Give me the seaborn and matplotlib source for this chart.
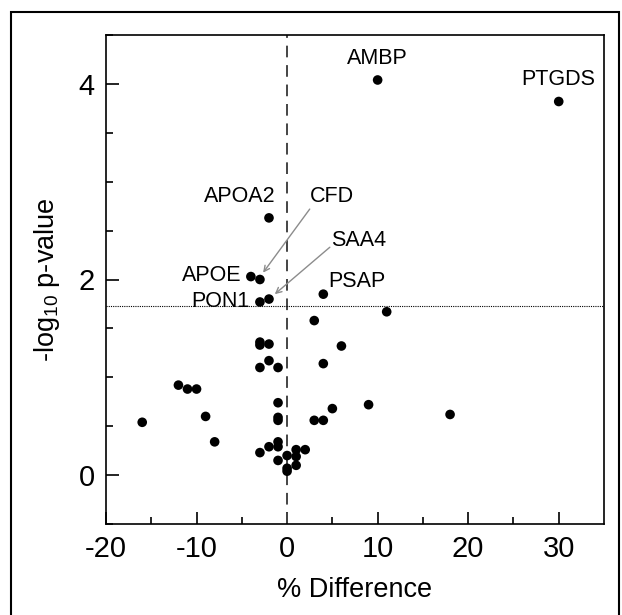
import numpy as np
import pandas as pd
import matplotlib
matplotlib.use("Agg")
import matplotlib.pyplot as plt
import seaborn as sns
from matplotlib.patches import Rectangle

# data
pct_diff = [10, 30, -2, -4, -3, -2, -3, 4,
            11, 3, -3, -3, -2, 6, -2, -3, -1, 4,
            -12, -11, -10, -1, 9, 5, -9, 18, -16, -1, -1, 3, 4,
            -8, -1, -1, -2, -3, -1, 0, 1, 2, 1, 1, 0, 0]
neg_log_p = [4.04, 3.82, 2.63, 2.03, 2.00, 1.80, 1.77, 1.85,
             1.67, 1.58, 1.36, 1.33, 1.34, 1.32, 1.17, 1.10, 1.10, 1.14,
             0.92, 0.88, 0.88, 0.74, 0.72, 0.68, 0.60, 0.62, 0.54, 0.59, 0.56, 0.56, 0.56,
             0.34, 0.34, 0.29, 0.29, 0.23, 0.15, 0.20, 0.26, 0.26, 0.19, 0.10, 0.07, 0.04]

threshold = 1.73

df = pd.DataFrame({"diff": pct_diff, "p": neg_log_p})

sns.set_style("ticks")
plt.rcParams["font.family"] = ["Liberation Sans", "DejaVu Sans"]
plt.rcParams["axes.unicode_minus"] = False
plt.rcParams["mathtext.fontset"] = "custom"
plt.rcParams["mathtext.rm"] = "Liberation Sans"
plt.rcParams["mathtext.it"] = "Liberation Sans:italic"
plt.rcParams["text.color"] = "black"
plt.rcParams["axes.labelcolor"] = "black"
plt.rcParams["xtick.labelcolor"] = "black"
plt.rcParams["ytick.labelcolor"] = "black"

fig = plt.figure(figsize=(6.22, 6.15), dpi=100)
ax = fig.add_axes([106 / 622, 1 - 524 / 615, 498 / 622, 489 / 615])

ax.axvline(0, color="#444444", linestyle=(0, (6, 4)), linewidth=1.4, zorder=1)
ax.axhline(threshold, color="black", linestyle=(0, (1, 1)), linewidth=0.8, zorder=1)

sns.scatterplot(data=df, x="diff", y="p", color="black", s=48,
                edgecolor="none", ax=ax, zorder=3)

# labels
fs = 15.5
ax.text(10, 4.26, "AMBP", fontsize=fs, ha="center", va="center")
ax.text(30, 4.05, "PTGDS", fontsize=fs, ha="center", va="center")
ax.text(-5.2, 2.85, "APOA2", fontsize=fs, ha="center", va="center")
ax.text(-5.0, 2.04, "APOE", fontsize=fs, ha="right", va="center")
ax.text(-4.1, 1.775, "PON1", fontsize=fs, ha="right", va="center")
ax.text(4.5, 1.98, "PSAP", fontsize=fs, ha="left", va="center")
ax.text(4.9, 2.85, "CFD", fontsize=fs, ha="center", va="center")
ax.text(7.9, 2.40, "SAA4", fontsize=fs, ha="center", va="center")

arrow = dict(arrowstyle="->", color="#8c8c8c", lw=1.0, shrinkA=0, shrinkB=0)
ax.annotate("", xy=(-2.65, 2.07), xytext=(2.5, 2.72), arrowprops=arrow)
ax.annotate("", xy=(-1.36, 1.85), xytext=(4.72, 2.33), arrowprops=arrow)

ax.set_xlim(-20, 35)
ax.set_ylim(-0.5, 4.5)
ax.set_xticks([-20, -10, 0, 10, 20, 30])
ax.set_xticks([-15, -5, 5, 15, 25], minor=True)
ax.set_yticks([0, 2, 4])
ax.set_yticks([-0.5, 0.5, 1, 1.5, 2.5, 3, 3.5, 4.5], minor=True)

ax.tick_params(which="both", direction="in", color="black", width=1.2,
               labelsize=21, labelcolor="black", top=False, right=False)
ax.tick_params(which="major", length=9, pad=8)
ax.tick_params(which="minor", length=5)

for sp in ax.spines.values():
    sp.set_visible(True)
    sp.set_linewidth(1.2)
    sp.set_color("black")

ax.set_xlabel("% Difference", fontsize=19.5, labelpad=10)
ax.set_ylabel("-log$_{10}$ p-value", fontsize=19.5, labelpad=12)

# outer frame of the figure panel
fig.patches.append(Rectangle((11 / 622, -0.05), 608 / 622, 1 - 12 / 615 + 0.05,
                             transform=fig.transFigure, fill=False,
                             edgecolor="black", linewidth=1.5))

fig.savefig("out.png", dpi=100)
